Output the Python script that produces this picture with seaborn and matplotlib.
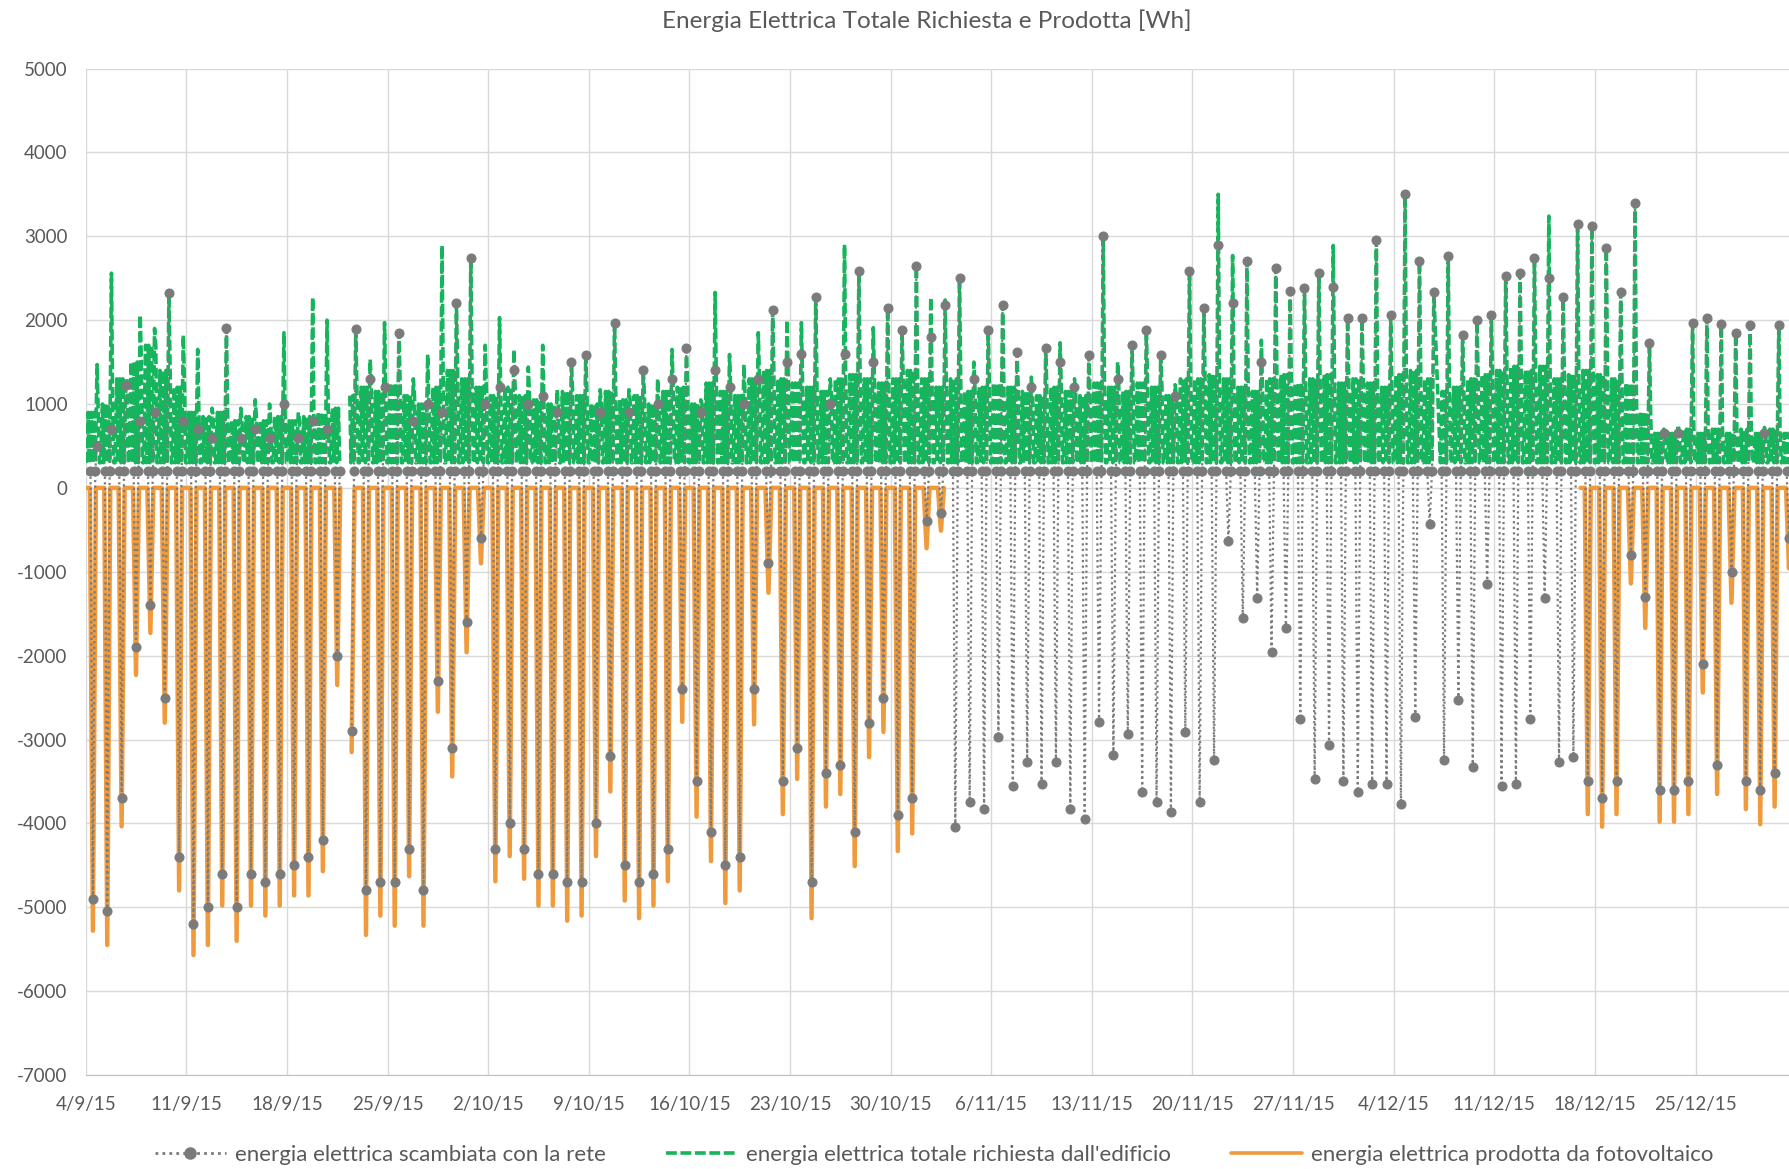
import numpy as np
import pandas as pd
import matplotlib
matplotlib.use("Agg")
import matplotlib.pyplot as plt
import matplotlib.dates as mdates
from matplotlib.lines import Line2D
from matplotlib.ticker import FuncFormatter
import seaborn as sns

# giorni: dal 4/9/15 al 31/12/15
days = pd.date_range("2015-09-04", periods=119, freq="D")
nan = np.nan

# picco giornaliero energia richiesta dall'edificio [Wh]
dem_max = [1470, 2560, 1230, 2060, 1900, 2325, 1820, 1650, 950, 1910,
           950, 1050, 1000, 1850, 900, 2270, 2000, 2120, 1890, 1530,
           1970, 1850, 1300, 1590, 2890, 2210, 2740, 1700, 2030, 1650,
           1440, 1700, 1170, 1500, 1590, 1170, 1970, 1170, 1410, 1300,
           1650, 1670, 1050, 2330, 1590, 1470, 1850, 2120, 2000, 1970,
           2270, 1300, 2900, 2580, 1910, 2150, 1880, 2650, 2270, 2240,
           2500, 1500, 1880, 2180, 1620, 1320, 1670, 1730, 1300, 1590,
           3000, 1500, 1700, 1880, 1590, 1230, 2590, 2150, 3500, 2770,
           2710, 1760, 2620, 2350, 2380, 2560, 2890, 2030, 2030, 2950,
           2060, 3500, 2710, 2330, 2770, 1820, 2000, 2060, 2530, 2560,
           2740, 3240, 2270, 3150, 3120, 2860, 2330, 3400, 1730, 700,
           750, 1970, 2030, 1950, 1850, 1940, 720, 1940, 700]

# livello tipico diurno della richiesta [Wh]
dem_day = [900, 1000, 1300, 1500, 1700, 1400, 1200, 900, 850, 900,
           800, 850, 800, 850, 800, 850, 900, 950, 1100, 1200,
           1150, 1250, 1100, 1000, 1200, 1400, 1300, 1200, 1100, 1200,
           1100, 1050, 1000, 1150, 1100, 1000, 1150, 1050, 1100, 1000,
           1150, 1200, 1000, 1250, 1150, 1100, 1300, 1400, 1300, 1250,
           1200, 1150, 1300, 1350, 1300, 1250, 1300, 1400, 1300, 1200,
           1300, 1150, 1200, 1250, 1200, 1150, 1100, 1200, 1150, 1100,
           1250, 1200, 1150, 1250, 1200, 1100, 1300, 1300, 1350, 1300,
           1200, 1150, 1300, 1350, 1250, 1300, 1350, 1250, 1300, 1250,
           1200, 1350, 1400, 1300, 1150, 1200, 1300, 1350, 1400, 1450,
           1400, 1450, 1300, 1350, 1400, 1350, 1300, 1250, 900, 650,
           650, 700, 650, 700, 650, 700, 650, 700, 650]

# massimo giornaliero energia scambiata con la rete [Wh]
grid_max = [500, 700, 1230, 800, 900, 2325, 800, 700, 600, 1910,
            600, 700, 600, 1000, 600, 800, 700, 900, 1890, 1300,
            1200, 1850, 800, 1000, 900, 2210, 2740, 1000, 1200, 1400,
            1000, 1100, 900, 1500, 1590, 900, 1970, 900, 1410, 1000,
            1300, 1670, 900, 1400, 1200, 1000, 1300, 2120, 1500, 1600,
            2270, 1000, 1600, 2580, 1500, 2150, 1880, 2650, 1800, 2180,
            2500, 1300, 1880, 2180, 1620, 1200, 1670, 1500, 1200, 1590,
            3000, 1300, 1700, 1880, 1590, 1100, 2590, 2150, 2900, 2200,
            2710, 1500, 2620, 2350, 2380, 2560, 2400, 2030, 2030, 2950,
            2060, 3500, 2710, 2330, 2770, 1820, 2000, 2060, 2530, 2560,
            2740, 2500, 2270, 3150, 3120, 2860, 2330, 3400, 1730, 650,
            650, 1970, 2030, 1950, 1850, 1940, 650, 1940, 650]

# minimo giornaliero energia scambiata con la rete [Wh]
grid_min = [-4900, -5050, -3700, -1900, -1400, -2500, -4400, -5200, -5000, -4600,
            -5000, -4600, -4700, -4600, -4500, -4400, -4200, -2000, -2900, -4800,
            -4700, -4700, -4300, -4800, -2300, -3100, -1600, -600, -4300, -4000,
            -4300, -4600, -4600, -4700, -4700, -4000, -3200, -4500, -4700, -4600,
            -4300, -2400, -3500, -4100, -4500, -4400, -2400, -900, -3500, -3100,
            -4700, -3400, -3300, -4100, -2800, -2500, -3900, -3700, -400, -300,
            -4040, -3740, -3830, -2970, -3560, -3270, -3530, -3270, -3830, -3950,
            -2790, -3180, -2940, -3620, -3740, -3860, -2910, -3740, -3240, -630,
            -1550, -1310, -1960, -1670, -2760, -3470, -3060, -3500, -3620, -3530,
            -3530, -3770, -2730, -430, -3240, -2530, -3330, -1140, -3560, -3530,
            -2760, -1310, -3270, -3210, -3500, -3700, -3500, -800, -1300, -3600,
            -3600, -3500, -2100, -3300, -1000, -3500, -3600, -3400, -600]

# picco giornaliero fotovoltaico [Wh] (serie assente dal 3/11 al 16/12)
pv_min = [-5280, -5450, -4035, -2230, -1730, -2800, -4800, -5570, -5450, -4980,
          -5400, -4980, -5100, -4980, -4860, -4860, -4570, -2350, -3150, -5330,
          -5100, -5220, -4630, -5220, -2670, -3440, -1960, -900, -4690, -4390,
          -4660, -4980, -4980, -5160, -5100, -4390, -3620, -4920, -5130, -4980,
          -4690, -2790, -3920, -4450, -4950, -4800, -2820, -1250, -3890, -3470,
          -5130, -3800, -3650, -4510, -3210, -2910, -4330, -4120, -720, -510] \
         + [nan] * 44 + \
         [-3890, -4040, -3890, -1140, -1670, -3980, -3980, -3890, -2440, -3650,
          -1370, -3830, -4010, -3800, -960]

dem_night = 300
grid_night = 200

# ore senza dati
gaps = [("2015-09-21 17:00", "2015-09-22 09:00"),
        ("2015-12-06 20:00", "2015-12-07 06:00")]

c_grid = "#7B7B7B"
c_dem = "#16B45C"
c_pv = "#EF9A3C"


def daily_series(hours, cols):
    rows = []
    for i, day in enumerate(days):
        vals = [c[i] if isinstance(c, list) else c for c in cols]
        if any(pd.isna(v) for v in vals):
            continue
        for h, v in zip(hours, vals):
            rows.append((day + pd.Timedelta(hours=h), v))
    df = pd.DataFrame(rows, columns=["t", "v"])
    for g0, g1 in gaps:
        df = df[~((df.t > pd.Timestamp(g0)) & (df.t < pd.Timestamp(g1)))]
    df["seg"] = (df.t.diff() > pd.Timedelta(hours=11)).cumsum()
    return df


pv_zero = [0 if not pd.isna(v) else nan for v in pv_min]
df_pv = daily_series([0, 7, 12, 17], [pv_zero, pv_zero, pv_min, pv_zero])
df_dem = daily_series([1, 4, 6, 9, 11, 14, 16, 19, 21, 23],
                      [dem_night, dem_day, dem_night, dem_day, dem_night,
                       dem_day, dem_night, dem_max, dem_day, dem_night])
df_grid = daily_series([8, 12, 16, 19],
                       [grid_night, grid_min, grid_night, grid_max])

sns.set_style("white")
plt.rcParams['font.family'] = ['Lato', 'DejaVu Sans']
plt.rcParams['axes.unicode_minus'] = False

fig = plt.figure(figsize=(17.89, 11.69), dpi=100)
ax = fig.add_axes([0.0479, 0.0804, 0.9521, 0.861])

sns.lineplot(data=df_pv, x="t", y="v", units="seg", estimator=None, sort=False,
             color=c_pv, lw=3.2, legend=False, ax=ax, zorder=2)
sns.lineplot(data=df_dem, x="t", y="v", units="seg", estimator=None, sort=False,
             color=c_dem, lw=2.6, linestyle=(0, (3, 1.0)), legend=False, ax=ax, zorder=3)
sns.lineplot(data=df_grid, x="t", y="v", units="seg", estimator=None, sort=False,
             color=c_grid, lw=1.6, linestyle=(0, (1, 1.5)), marker="o", markersize=6.5,
             markeredgecolor=c_grid, markerfacecolor=c_grid, legend=False, ax=ax, zorder=4)

ax.set_xlim(days[0], days[0] + pd.Timedelta(days=118.5))
ax.set_ylim(-7000, 5000)
ax.set_yticks(range(-7000, 5001, 1000))
ax.set_xticks(days[::7])
ax.xaxis.set_major_formatter(FuncFormatter(
    lambda x, pos: "{}/{}/{}".format(mdates.num2date(x).day, mdates.num2date(x).month,
                                     mdates.num2date(x).strftime("%y"))))
ax.set_xlabel("")
ax.set_ylabel("")
ax.grid(True, color="#D9D9D9", lw=1)
ax.set_axisbelow(True)
for s in ["top", "right", "left"]:
    ax.spines[s].set_visible(False)
ax.spines["bottom"].set_color("#BFBFBF")
ax.tick_params(axis="both", length=0, labelsize=13.5, labelcolor="#595959")
ax.tick_params(axis="y", pad=13)
ax.tick_params(axis="x", pad=15)

fig.text(0.518, 0.982, "Energia Elettrica Totale Richiesta e Prodotta [Wh]",
         ha="center", va="center", fontsize=17.5, color="#595959")

handles = [
    Line2D([], [], color=c_grid, lw=2, linestyle=(0, (1, 1.5)), marker="o", markersize=8),
    Line2D([], [], color=c_dem, lw=2.6, linestyle=(0, (3, 1.0))),
    Line2D([], [], color=c_pv, lw=2.6),
]
labels = ["energia elettrica scambiata con la rete",
          "energia elettrica totale richiesta dall'edificio",
          "energia elettrica prodotta da fotovoltaico"]
leg = fig.legend(handles, labels, loc="center", bbox_to_anchor=(0.522, 0.012), ncol=3,
                 frameon=False, fontsize=16, handlelength=3.2, handletextpad=0.4,
                 columnspacing=2.7)
for t in leg.get_texts():
    t.set_color("#595959")

fig.savefig("out.png", dpi=100)
